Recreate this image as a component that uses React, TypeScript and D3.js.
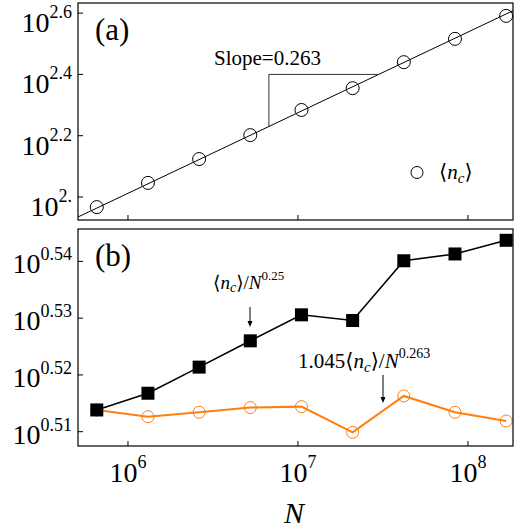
import React from "react";
import * as d3 from "d3";

// system sizes N (doubling)
const sizes = [655360, 1310720, 2621440, 5242880, 10485760, 20971520, 41943040, 83886080, 167772160];
// panel (a): <n_c>
const ncMean = [92.7, 111.2, 133.0, 159.2, 192.3, 226.5, 275.4, 328.1, 389.9];
// panel (b): <n_c>/N^0.25 and 1.045<n_c>/N^0.263
const ncOverN025 = [3.2646, 3.2868, 3.3218, 3.3574, 3.393, 3.3852, 3.4682, 3.4778, 3.4971];
const ncOverN0263 = [3.2644, 3.2557, 3.2615, 3.2677, 3.269, 3.2351, 3.2832, 3.2615, 3.25];
const slope = 0.263;

const xTickExps = [6, 7, 8];
const topTickExps = ["2.6", "2.4", "2.2", "2."];
const topTickVals = [2.6, 2.4, 2.2, 2.0];
const botTickExps = ["0.54", "0.53", "0.52", "0.51"];
const botTickVals = [0.54, 0.53, 0.52, 0.51];

const FONT = "Liberation Serif, Times New Roman, DejaVu Serif";
const ORANGE = "#ff7f0e";

function Pow({ x, y, exp, anchor, size = 28, sup = 18, rise = 14 }) {
  return (
    <text x={x} y={y} textAnchor={anchor} fontSize={size} fill="#000">
      10
      <tspan dy={-rise} fontSize={sup}>{exp}</tspan>
    </text>
  );
}

function Arrow({ x, y1, y2 }) {
  return (
    <g>
      <line x1={x} x2={x} y1={y1} y2={y2 - 5} stroke="#000" strokeWidth={1} />
      <path d={`M${x - 2.5},${y2 - 6} L${x + 2.5},${y2 - 6} L${x},${y2} Z`} fill="#000" />
    </g>
  );
}

export default function App() {
  const left = 78;
  const right = 513;
  const topA = 3;
  const botA = 220;
  const topB = 229;
  const botB = 446;

  const x = d3.scaleLog().domain([Math.pow(10, 5.706), Math.pow(10, 8.265)]).range([left, right]);
  const yA = d3.scaleLog().domain([Math.pow(10, 1.925), Math.pow(10, 2.633)]).range([botA, topA]);
  const yB = d3.scaleLog().domain([Math.pow(10, 0.50748), Math.pow(10, 0.5457)]).range([botB, topB]);

  // fit with fixed slope
  const intercept = d3.mean(sizes, (n, i) => Math.log10(ncMean[i]) - slope * Math.log10(n));
  const fit = (n) => Math.pow(10, intercept + slope * Math.log10(n));
  const [d0, d1] = x.domain();
  const fitLine = d3.line().x((n) => x(n)).y((n) => yA(fit(n)))([d0, d1]);

  // slope triangle
  const triX0 = Math.pow(10, 6.829);
  const triY = Math.pow(10, 2.4);
  const triX1 = Math.pow(10, (Math.log10(triY) - intercept) / slope);

  const lineB1 = d3.line().x((d, i) => x(sizes[i])).y((d) => yB(d))(ncOverN025);
  const lineB2 = d3.line().x((d, i) => x(sizes[i])).y((d) => yB(d))(ncOverN0263);

  const xTicks = (yBottom) =>
    xTickExps.map((e) => (
      <line key={e} x1={x(Math.pow(10, e))} x2={x(Math.pow(10, e))} y1={yBottom} y2={yBottom - 5} stroke="#000" />
    ));

  return (
    <svg width={520} height={532} style={{ position: "absolute", left: 0, top: 0, fontFamily: FONT }}>
      <rect width={520} height={532} fill="#fff" />
      <defs>
        <clipPath id="clipA">
          <rect x={left} y={topA} width={right - left} height={botA - topA} />
        </clipPath>
      </defs>

      {/* panel (a) */}
      <g clipPath="url(#clipA)">
        <path d={fitLine} fill="none" stroke="#000" strokeWidth={1} />
      </g>
      <path
        d={`M${x(triX0)},${yA(fit(triX0))} L${x(triX0)},${yA(triY)} L${x(triX1)},${yA(triY)}`}
        fill="none"
        stroke="#333"
        strokeWidth={1}
      />
      {sizes.map((n, i) => (
        <circle key={n} cx={x(n)} cy={yA(ncMean[i])} r={6.5} fill="none" stroke="#000" strokeWidth={1} />
      ))}
      <rect x={left} y={topA} width={right - left} height={botA - topA} fill="none" stroke="#000" strokeWidth={1.2} />
      {xTicks(botA)}
      {topTickVals.map((v, i) => (
        <g key={v}>
          <line x1={left} x2={left + 5} y1={yA(Math.pow(10, v))} y2={yA(Math.pow(10, v))} stroke="#000" />
          <Pow x={72} y={yA(Math.pow(10, v)) + 19} exp={topTickExps[i]} anchor="end" />
        </g>
      ))}
      <text x={95} y={40} fontSize={31}>(a)</text>
      <text x={214} y={65} fontSize={21}>Slope=0.263</text>
      <circle cx={417} cy={172.5} r={6} fill="none" stroke="#000" strokeWidth={1} />
      <text x={439} y={179} fontSize={21}>
        ⟨<tspan fontStyle="italic">n</tspan>
        <tspan fontStyle="italic" fontSize={15} dy={4}>c</tspan>
        <tspan dy={-4}>⟩</tspan>
      </text>

      {/* panel (b) */}
      <path d={lineB2} fill="none" stroke={ORANGE} strokeWidth={2} />
      {sizes.map((n, i) => (
        <circle key={n} cx={x(n)} cy={yB(ncOverN0263[i])} r={6} fill="none" stroke={ORANGE} strokeWidth={1} />
      ))}
      <path d={lineB1} fill="none" stroke="#000" strokeWidth={1.6} />
      {sizes.map((n, i) => (
        <rect key={n} x={x(n) - 6.5} y={yB(ncOverN025[i]) - 6.5} width={13} height={13} fill="#000" />
      ))}
      <rect x={left} y={topB} width={right - left} height={botB - topB} fill="none" stroke="#000" strokeWidth={1.2} />
      {xTicks(botB)}
      {botTickVals.map((v, i) => (
        <g key={v}>
          <line x1={left} x2={left + 5} y1={yB(Math.pow(10, v))} y2={yB(Math.pow(10, v))} stroke="#000" />
          <Pow x={72} y={yB(Math.pow(10, v)) + 12} exp={botTickExps[i]} anchor="end" rise={13} />
        </g>
      ))}
      <text x={95} y={266} fontSize={31}>(b)</text>

      <text x={213} y={289} fontSize={19}>
        ⟨<tspan fontStyle="italic">n</tspan>
        <tspan fontStyle="italic" fontSize={14} dy={3}>c</tspan>
        <tspan dy={-3}>⟩/</tspan>
        <tspan fontStyle="italic">N</tspan>
        <tspan fontSize={13} dy={-9}>0.25</tspan>
      </text>
      <Arrow x={250} y1={307} y2={327} />

      <text x={298} y={368} fontSize={21}>
        1.045⟨<tspan fontStyle="italic">n</tspan>
        <tspan fontStyle="italic" fontSize={15} dy={4}>c</tspan>
        <tspan dy={-4}>⟩/</tspan>
        <tspan fontStyle="italic">N</tspan>
        <tspan fontSize={14} dy={-10}>0.263</tspan>
      </text>
      <Arrow x={383} y1={375} y2={403} />

      {/* x axis labels */}
      {xTickExps.map((e) => (
        <Pow key={e} x={x(Math.pow(10, e))} y={482} exp={String(e)} anchor="middle" />
      ))}
      <text x={294} y={523} textAnchor="middle" fontSize={30} fontStyle="italic">N</text>
    </svg>
  );
}
